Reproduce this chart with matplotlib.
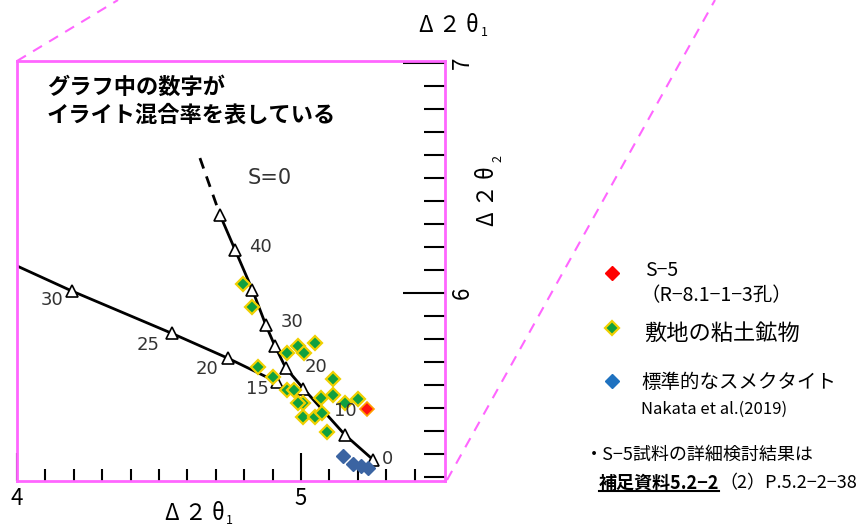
import numpy as np
import matplotlib
matplotlib.use('Agg')
import matplotlib.pyplot as plt
from matplotlib.lines import Line2D

plt.rcParams['font.family'] = ['Noto Sans CJK JP', 'DejaVu Sans']

# S=0 曲線（三角の点）
s0_x = [4.715, 4.768, 4.829, 4.876, 4.908, 4.946, 5.008, 5.155, 5.255]
s0_y = [6.339, 6.187, 6.013, 5.861, 5.770, 5.675, 5.585, 5.383, 5.274]
# 破線の延長部分
s0_dash_x = [4.644, 4.715]
s0_dash_y = [6.587, 6.339]
s0_lab = ['40', '30', '20', '10', '0']
s0_lab_x = [4.856, 4.968, 5.053, 5.155, 5.306]
s0_lab_y = [6.20, 5.874, 5.68, 5.487, 5.28]

# もう一本の曲線
c2_line_x = [4.005, 4.193, 4.545, 4.744, 4.914]
c2_line_y = [6.115, 6.009, 5.825, 5.716, 5.614]
c2_mark_x = [4.193, 4.545, 4.744, 4.914]
c2_mark_y = [6.009, 5.825, 5.716, 5.614]
c2_lab = ['30', '25', '20', '15']
c2_lab_x = [4.122, 4.462, 4.668, 4.846]
c2_lab_y = [5.97, 5.774, 5.67, 5.583]

# 敷地の粘土鉱物
green_x = [4.795, 4.826, 4.952, 4.991, 5.011, 5.049, 4.850, 4.900, 4.950, 4.975,
           5.114, 5.008, 4.991, 5.069, 5.112, 5.153, 5.202, 5.006, 5.049, 5.073, 5.090]
green_y = [6.039, 5.940, 5.740, 5.770, 5.738, 5.784, 5.680, 5.636, 5.578, 5.578,
           5.625, 5.520, 5.523, 5.545, 5.557, 5.520, 5.538, 5.462, 5.460, 5.480, 5.397]
# S-5
red_x = [5.231]
red_y = [5.496]
# 標準的なスメクタイト
blue_x = [5.149, 5.184, 5.211, 5.235]
blue_y = [5.291, 5.257, 5.248, 5.238]

fig = plt.figure(figsize=(8.64, 5.28), dpi=100)
ax = fig.add_axes([0.0197, 0.089, 0.4954, 0.7955])

ax.plot(s0_dash_x, s0_dash_y, color='black', lw=2, ls=(0, (4, 3)))
ax.plot(s0_x, s0_y, color='black', lw=2, marker='^', ms=8, mfc='white', mec='black', mew=1.2)
ax.plot(c2_line_x, c2_line_y, color='black', lw=2)
ax.plot(c2_mark_x, c2_mark_y, ls='none', marker='^', ms=8, mfc='white', mec='black', mew=1.2)

for t, x, y in zip(s0_lab, s0_lab_x, s0_lab_y):
    ax.text(x, y, t, fontsize=13, color='#333333', ha='center', va='center', family='DejaVu Sans')
for t, x, y in zip(c2_lab, c2_lab_x, c2_lab_y):
    ax.text(x, y, t, fontsize=13, color='#333333', ha='center', va='center', family='DejaVu Sans')
ax.text(4.89, 6.5, 'S=0', fontsize=15, color='#333333', ha='center', va='center', family='DejaVu Sans')

ax.plot(green_x, green_y, ls='none', marker='D', ms=7, mfc='#10a040', mec='#f0d000', mew=1.6)
ax.plot(red_x, red_y, ls='none', marker='D', ms=7, mfc='#ff1010', mec='#ffa000', mew=1.2)
ax.plot(blue_x, blue_y, ls='none', marker='D', ms=7, mfc='#3b64a2', mec='#3b64a2')

ax.set_xlim(4.0, 5.507)
ax.set_ylim(5.183, 7.009)
ax.set_xticks([4, 5])
ax.set_xticks(np.arange(4.1, 5.45, 0.1), minor=True)
ax.set_yticks([6, 7])
ax.set_yticks(np.arange(5.2, 7.0, 0.1), minor=True)
ax.set_xticklabels(['4', '5'], fontsize=16)
ax.set_yticklabels(['6', '7'], fontsize=16, rotation=90, va='center')
ax.yaxis.tick_right()
ax.tick_params(axis='x', which='major', direction='in', length=20, width=1.5, pad=4)
ax.tick_params(axis='x', which='minor', direction='in', length=9, width=1.5)
ax.tick_params(axis='y', which='major', direction='in', length=30, width=1.5, pad=4)
ax.tick_params(axis='y', which='minor', direction='in', length=15, width=1.5)
for sp in ax.spines.values():
    sp.set_color('#ff66ff')
    sp.set_linewidth(2)

ax.text(0.07, 0.965, 'グラフ中の数字が\nイライト混合率を表している', transform=ax.transAxes,
        fontsize=16, fontweight='bold', ha='left', va='top', linespacing=1.25)

# 軸ラベル
fig.text(165 / 864, 1 - 514 / 528, 'Δ ２ θ', fontsize=16, ha='left', va='center')
fig.text(226 / 864, 1 - 521 / 528, '1', fontsize=9, ha='left', va='center')
fig.text(419 / 864, 1 - 25 / 528, 'Δ ２ θ', fontsize=16, ha='left', va='center')
fig.text(481 / 864, 1 - 32 / 528, '1', fontsize=9, ha='left', va='center')
fig.text(488 / 864, 1 - 196 / 528, 'Δ ２ θ', fontsize=16, ha='center', va='center', rotation=90)
fig.text(498 / 864, 1 - 158 / 528, '2', fontsize=9, ha='center', va='center', rotation=90)

# 拡大を示す破線
fig.add_artist(Line2D([17 / 864, 118 / 864], [1 - 61 / 528, 1.0], color='#ff66ff', lw=1.5, ls=(0, (5, 4))))
fig.add_artist(Line2D([447 / 864, 715 / 864], [1 - 480 / 528, 1.0], color='#ff66ff', lw=1.5, ls=(0, (5, 4))))

# 凡例
fig.add_artist(Line2D([612 / 864], [1 - 273 / 528], ls='none', marker='D', ms=7.5, mfc='#ff0000', mec='#ff0000'))
fig.add_artist(Line2D([612 / 864], [1 - 328 / 528], ls='none', marker='D', ms=7.5, mfc='#10a040', mec='#f0d000', mew=1.6))
fig.add_artist(Line2D([612 / 864], [1 - 381 / 528], ls='none', marker='D', ms=7.5, mfc='#1f72c0', mec='#1f72c0'))
fig.text(645 / 864, 1 - 270 / 528, 'S−5', fontsize=14, ha='left', va='center')
fig.text(640 / 864, 1 - 296 / 528, '（R−8.1−1−3孔）', fontsize=14, ha='left', va='center')
fig.text(644 / 864, 1 - 333 / 528, '敷地の粘土鉱物', fontsize=16, ha='left', va='center')
fig.text(641 / 864, 1 - 383 / 528, '標準的なスメクタイト', fontsize=14, ha='left', va='center')
fig.text(641 / 864, 1 - 409 / 528, 'Nakata et al.(2019)', fontsize=12, ha='left', va='center')

fig.text(585 / 864, 1 - 455 / 528, '・S−5試料の詳細検討結果は', fontsize=13, ha='left', va='center')
t1 = fig.text(599 / 864, 1 - 483 / 528, '補足資料5.2−2', fontsize=13, fontweight='bold', ha='left', va='center')
fig.canvas.draw()
bb = t1.get_window_extent().transformed(fig.transFigure.inverted())
fig.add_artist(Line2D([bb.x0, bb.x1], [bb.y0 + 0.002, bb.y0 + 0.002], color='black', lw=1.5))
fig.text(bb.x1, 1 - 483 / 528, '（2）P.5.2−2−38', fontsize=13, ha='left', va='center')

fig.savefig('out.png', dpi=100)
